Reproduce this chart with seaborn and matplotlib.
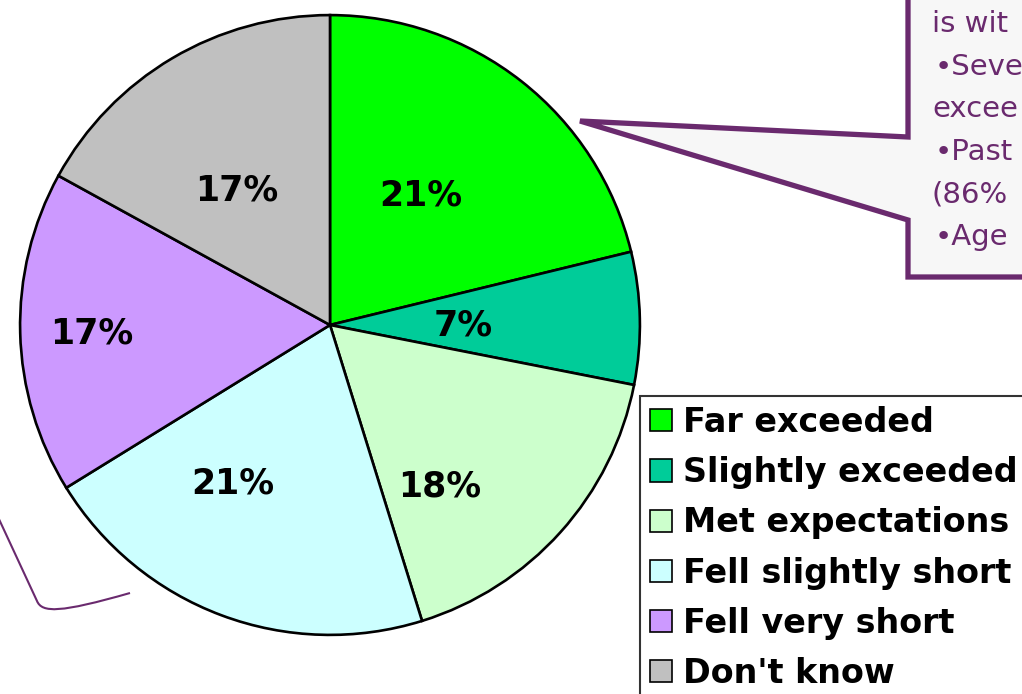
import matplotlib
matplotlib.use("Agg")
import matplotlib.pyplot as plt
import seaborn as sns
import numpy as np
from matplotlib.patches import Polygon, PathPatch
from matplotlib.path import Path

categories = ['Far exceeded', 'Slightly exceeded', 'Met expectations',
              'Fell slightly short', 'Fell very short', "Don't know"]
shares = [21.2, 6.9, 17.1, 21.0, 16.8, 17.0]
pct_labels = ['21%', '7%', '18%', '21%', '17%', '17%']
colors = ['#00FF00', '#00CC99', '#CCFFCC', '#CCFFFF', '#CC99FF', '#C0C0C0']
label_dist = [0.51, 0.43, 0.63, 0.60, 0.77, 0.53]
label_shift = [3.1, -1.3, -13.9, -11.1, 0.5, 4.2]   # degrees off the wedge middle

callout_lines = ['is wit', '\u2022Seve', 'excee', '\u2022Past', '(86%', '\u2022Age']

W, H = 1022, 694
PURPLE = '#6A2A6E'


def px(x, y):
    return (x / W, 1 - y / H)


sns.set_theme(style='white')
plt.rcParams['font.family'] = ['DejaVu Sans']
plt.rcParams['text.color'] = 'black'

fig = plt.figure(figsize=(W / 100, H / 100), dpi=100)
fig.patch.set_facecolor('white')

# pie axes: centre (330, 325) px, radius 313 px
r = 313
ax = fig.add_axes([(330 - r) / W, (H - 325 - r) / H, 2 * r / W, 2 * r / H])
wedges, _ = ax.pie(shares, colors=colors, startangle=90, counterclock=False,
                   wedgeprops=dict(edgecolor='black', linewidth=1.9))
ax.set_xlim(-1.01, 1.01)
ax.set_ylim(-1.01, 1.01)
ax.set_aspect('equal')
ax.axis('off')

for w, lab, d, s in zip(wedges, pct_labels, label_dist, label_shift):
    ang = np.deg2rad((w.theta1 + w.theta2) / 2 + s)
    ax.text(d * np.cos(ang), d * np.sin(ang), lab, ha='center', va='center',
            fontsize=25, fontweight='bold', color='black')

# callout box (top right, cropped)
box = Polygon([px(908, -20), px(908, 137), px(580, 121), px(908, 220),
               px(908, 277), px(1040, 277), px(1040, -20)], closed=True,
              transform=fig.transFigure, facecolor='#F7F7F7', edgecolor=PURPLE,
              linewidth=3.8, joinstyle='miter', zorder=5)
fig.add_artist(box)
for i, line in enumerate(callout_lines):
    x = 932 if i in (0, 2, 4) else 935
    fig.text(*px(x, 24 + i * 42.6), line, fontsize=21, color=PURPLE,
             ha='left', va='center', zorder=6)

# purple connector at lower left
verts = [px(-2, 517), px(37, 601), px(42, 613), px(60, 613), px(130, 593)]
codes = [Path.MOVETO, Path.LINETO, Path.CURVE4, Path.CURVE4, Path.CURVE4]
curve = PathPatch(Path(verts, codes), transform=fig.transFigure,
                  facecolor='none', edgecolor=PURPLE, linewidth=1.5)
fig.add_artist(curve)

# legend (cropped at right and bottom)
handles = [plt.Rectangle((0, 0), 1, 1, facecolor=c, edgecolor='black', linewidth=1.2)
           for c in colors]
leg = fig.legend(handles, categories, loc='upper left',
                 bbox_to_anchor=px(640, 396), bbox_transform=fig.transFigure,
                 prop={'weight': 'bold', 'size': 24}, frameon=True, fancybox=False,
                 edgecolor='black', handlelength=0.65, handleheight=0.65,
                 handletextpad=0.33, labelspacing=0.515, borderpad=0.3,
                 borderaxespad=0)
leg.get_frame().set_linewidth(1.5)
for t in leg.get_texts():
    t.set_color('black')

fig.savefig('out.png', dpi=100, facecolor='white')
